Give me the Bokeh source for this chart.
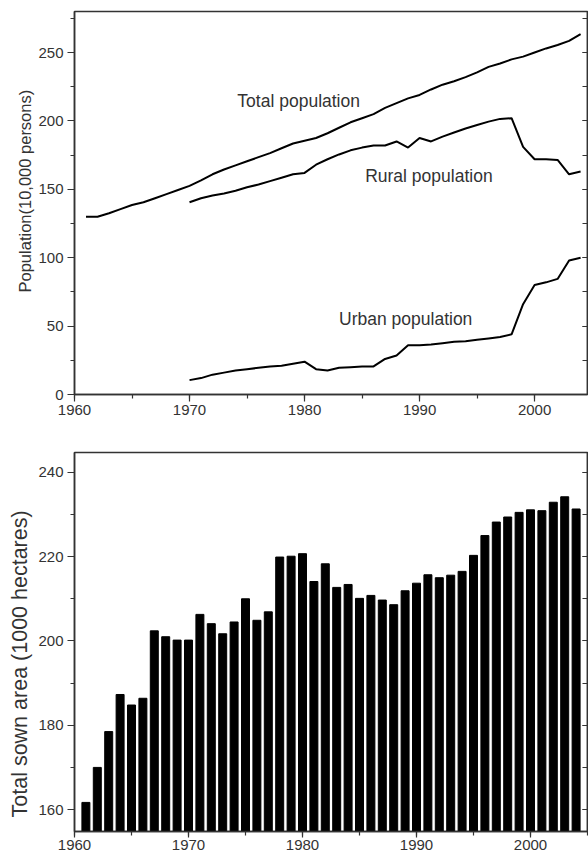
from bokeh.plotting import figure
from bokeh.models import (LinearAxis, SingleIntervalTicker, Label, Range1d,
                          CustomLabelingPolicy, Title)
from bokeh.layouts import column
from bokeh.embed import file_html
from bokeh.resources import INLINE

# ---------------- data ----------------
pop_years_total = list(range(1961, 2005))
total_pop = [130, 130, 132.5, 135.5, 138.5, 140.5, 143.5, 146.5, 149.5, 152.5,
             156.5, 161, 164.5, 167.5, 170.5, 173.5, 176.5, 180, 183.5, 185.5,
             187.5, 191, 195, 199, 202, 205, 209.5, 213, 216.5, 219,
             223, 226.5, 229, 232, 235.5, 239.5, 242, 245, 247, 250,
             253, 255.5, 258.5, 263.5]

pop_years_split = list(range(1970, 2005))
rural_pop = [140.5, 143.5, 145.5, 147, 149, 151.5, 153.5, 156, 158.5, 161,
             162, 168, 172, 175.5, 178.5, 180.5, 182, 182, 185, 180.5,
             187.5, 185, 188.5, 191.5, 194.5, 197, 199.5, 201.5, 202, 181,
             172, 172, 171.5, 161, 163]
urban_pop = [10.5, 12, 14.5, 16, 17.5, 18.5, 19.5, 20.5, 21, 22.5,
             24, 18.5, 17.5, 19.5, 20, 20.5, 20.5, 26, 28.5, 36,
             36, 36.5, 37.5, 38.5, 39, 40, 41, 42, 44, 66,
             80, 82, 84.5, 98, 100]

area_years = list(range(1961, 2005))
sown_area = [161.7, 170, 178.5, 187.3, 184.8, 186.4, 202.4, 201, 200.2, 200.2,
             206.3, 204.1, 201.7, 204.5, 210, 204.9, 206.9, 219.9, 220.1, 220.7,
             214.1, 218.3, 212.7, 213.4, 210.1, 210.8, 209.7, 208.6, 211.9, 213.7,
             215.7, 215, 215.6, 216.5, 220.3, 225, 228.2, 229.4, 230.5, 231.1,
             230.9, 232.9, 234.2, 231.3]

series_labels = ["Total population", "Rural population", "Urban population"]
y1_title = "Population(10,000 persons)"
y2_title = "Total sown area (1000 hectares)"

FONT = "Liberation Sans"
AX = "#333333"
TXT = "#333333"


def style_axes(p, xint, yint, x_standoff, x_tick_out):
    p.xgrid.visible = False
    p.ygrid.visible = False
    p.outline_line_color = AX
    p.outline_line_width = 1.5
    p.background_fill_color = "white"
    p.border_fill_color = "white"

    xa = p.xaxis[0]
    xa.ticker = SingleIntervalTicker(interval=xint, num_minor_ticks=2)
    ya = p.yaxis[0]
    ya.ticker = SingleIntervalTicker(interval=yint, num_minor_ticks=2)
    for a in (xa, ya):
        a.axis_line_color = AX
        a.axis_line_width = 1.5
        a.major_tick_line_color = AX
        a.minor_tick_line_color = AX
        a.major_tick_line_width = 1.2
        a.minor_tick_line_width = 1.2
        a.major_tick_in = 0
        a.major_tick_out = 7
        a.minor_tick_in = 0
        a.minor_tick_out = 4
        a.major_label_text_font = FONT
        a.major_label_text_font_size = "15px"
        a.major_label_text_color = TXT
    xa.major_tick_out = x_tick_out
    xa.major_label_standoff = x_standoff
    ya.major_label_standoff = 4

    # right axis: inward ticks only, no labels
    ra = LinearAxis(ticker=SingleIntervalTicker(interval=yint, num_minor_ticks=2))
    ra.axis_line_color = AX
    ra.axis_line_width = 1.5
    ra.major_tick_line_color = AX
    ra.minor_tick_line_color = AX
    ra.major_tick_line_width = 1.2
    ra.minor_tick_line_width = 1.2
    ra.major_tick_in = 5
    ra.major_tick_out = 0
    ra.minor_tick_in = 5
    ra.minor_tick_out = 0
    ra.major_label_text_font_size = "0px"
    ra.major_label_standoff = 0
    ra.axis_label_standoff = 0
    ra.major_label_policy = CustomLabelingPolicy(code="""
for (const i of indices)
  indices.unset(i)
""")
    p.add_layout(ra, "right")


def add_ytitle(p, text, size, offset, standoff):
    t = Title(text=text, align="left", offset=offset, standoff=standoff,
              text_font=FONT, text_font_size=size, text_font_style="normal",
              text_color=TXT)
    p.add_layout(t, "left")


# ---------------- top chart ----------------
p1 = figure(width=588, height=421, output_backend="svg", toolbar_location=None,
            x_range=Range1d(1960, 2004.6), y_range=Range1d(0, 280),
            min_border_left=74, min_border_right=1, min_border_top=11,
            min_border_bottom=27)
style_axes(p1, 10, 50, 3, 7)
add_ytitle(p1, y1_title, "16.5px", 102, 3)

p1.line(pop_years_total, total_pop, line_color="black", line_width=2)
p1.line(pop_years_split, rural_pop, line_color="black", line_width=2)
p1.line(pop_years_split, urban_pop, line_color="black", line_width=2)

for txt, lx, ly in zip(series_labels, [1974.16, 1985.27, 1983.0], [214.4, 160.1, 55.3]):
    p1.add_layout(Label(x=lx, y=ly, text=txt, text_font=FONT, text_font_size="17.5px",
                        text_color=TXT, text_baseline="alphabetic", text_align="left"))

# ---------------- bottom chart ----------------
p2 = figure(width=588, height=435, output_backend="svg", toolbar_location=None,
            x_range=Range1d(1960, 2005), y_range=Range1d(154.8, 244.7),
            min_border_left=74, min_border_right=1, min_border_top=31,
            min_border_bottom=25)
style_axes(p2, 10, 20, 2, 6)
add_ytitle(p2, y2_title, "21.5px", 14, 7)

p2.vbar(x=area_years, top=sown_area, bottom=150, width=0.7,
        fill_color="black", line_color="black")

layout = column(p1, p2, spacing=0)
open("out.html", "w").write(file_html(layout, INLINE))
